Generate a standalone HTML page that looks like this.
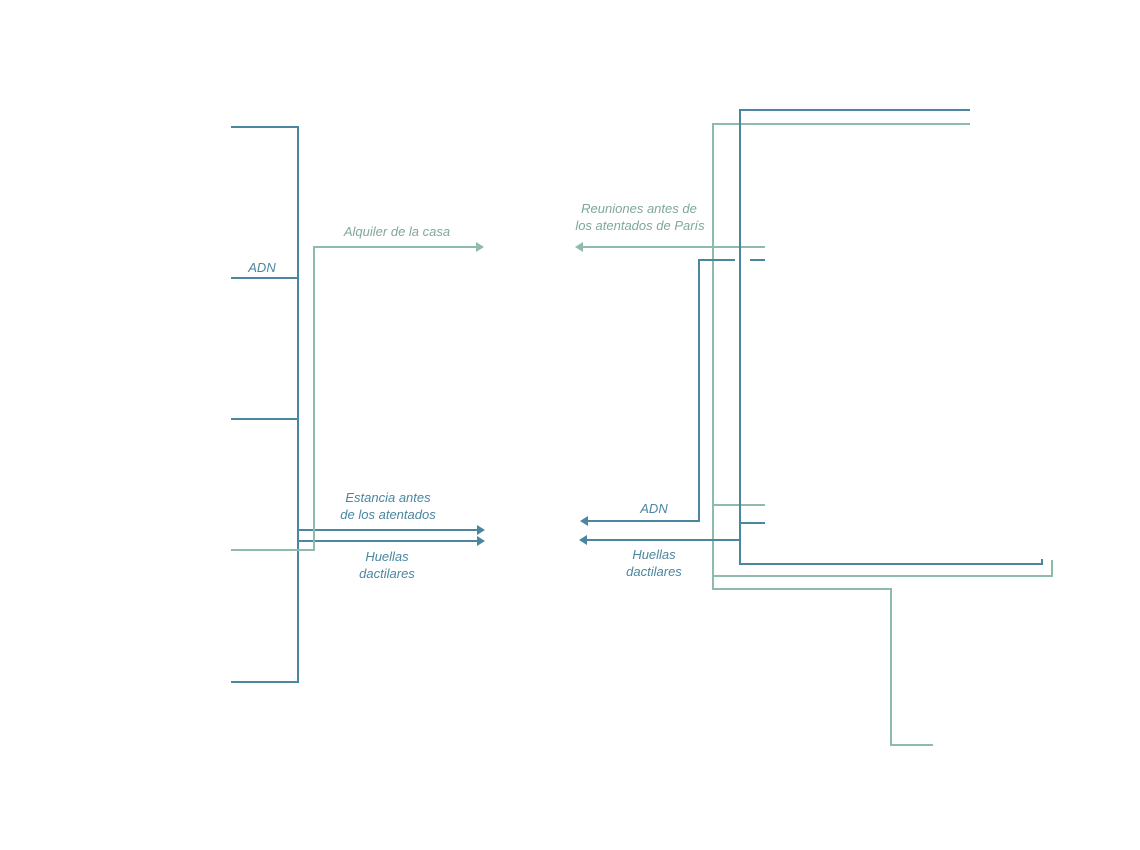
<!DOCTYPE html>
<html><head><meta charset="utf-8"><style>
html,body{margin:0;padding:0;background:#fff;}
svg{display:block;}
text{font-family:"Liberation Sans",sans-serif;font-style:italic;font-size:13px;text-anchor:middle;}
.b{stroke:#4a86a0;stroke-width:2;fill:none;}
.g{stroke:#8fbcaa;stroke-width:2;fill:none;}
</style></head><body>
<svg width="1140" height="850" viewBox="0 0 1140 850">
<!-- left blue -->
<path class="b" d="M231 127H298V682H231M231 278H298M231 419H298M298 530H478M298 541H478"/>
<polygon points="485,530 477,525 477,535" fill="#4a86a0"/>
<polygon points="485,541 477,536 477,546" fill="#4a86a0"/>
<!-- left green -->
<path class="g" d="M231 550H314V247H477"/>
<polygon points="484,247 476,242 476,252" fill="#8fbcaa"/>
<!-- right green -->
<path class="g" d="M970 124H713V589H891V745H933M713 576H1052V560M713 505H765M765 247H582"/>
<polygon points="575,247 583,242 583,252" fill="#8fbcaa"/>
<!-- right blue -->
<path class="b" d="M970 110H740V564H1042V559M740 523H765M740 540H587M765 260H750M735 260H699V521H587"/>
<polygon points="580,521 588,516 588,526" fill="#4a86a0"/>
<polygon points="579,540 587,535 587,545" fill="#4a86a0"/>
<!-- labels -->
<text x="397" y="236" fill="#7fa898">Alquiler de la casa</text>
<text x="262" y="272" fill="#4a86a0">ADN</text>
<text x="388" y="502" fill="#4a86a0">Estancia antes</text>
<text x="388" y="519" fill="#4a86a0">de los atentados</text>
<text x="387" y="561" fill="#4a86a0">Huellas</text>
<text x="387" y="578" fill="#4a86a0">dactilares</text>
<text x="639" y="213" fill="#7fa898">Reuniones antes de</text>
<text x="640" y="230" fill="#7fa898">los atentados de París</text>
<text x="654" y="513" fill="#4a86a0">ADN</text>
<text x="654" y="559" fill="#4a86a0">Huellas</text>
<text x="654" y="576" fill="#4a86a0">dactilares</text>
</svg>
</body></html>
